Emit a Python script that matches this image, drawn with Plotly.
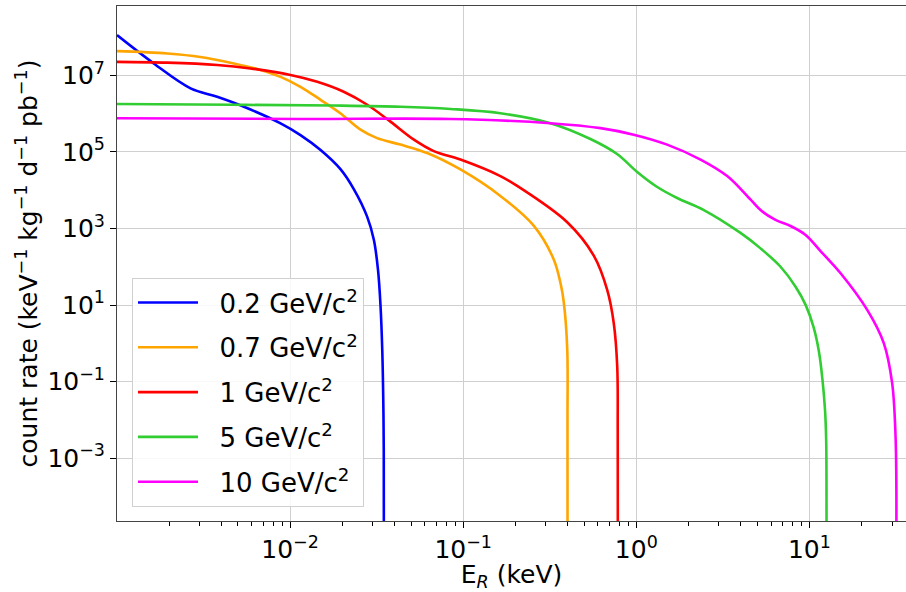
import plotly.graph_objects as go

# Values (E_R in keV, rate in keV^-1 kg^-1 d^-1 pb^-1)
labels = ["0.2 GeV/c<sup>2</sup>", "0.7 GeV/c<sup>2</sup>", "1 GeV/c<sup>2</sup>",
          "5 GeV/c<sup>2</sup>", "10 GeV/c<sup>2</sup>"]
colors = ["#0000ff", "#ffa500", "#ff0000", "#32cd32", "#ff00ff"]

e_02 = [1.0e-3, 1.63e-3, 2.66e-3, 3.79e-3, 5.41e-3, 8.81e-3, 1.148e-2, 1.50e-2,
        1.954e-2, 2.333e-2, 2.786e-2, 3.048e-2, 3.22e-2, 3.327e-2, 3.407e-2,
        3.453e-2, 3.476e-2, 3.48e-2]
r_02 = [1.12e8, 2.04e7, 4.57e6, 2.75e6, 1.51e6, 5.58e5, 2.75e5, 1.12e5,
        3.55e4, 1.07e4, 2.04e3, 501, 82.4, 10.1, 0.673,
        0.0333, 1.65e-3, 1e-5]

e_07 = [1.0e-3, 1.95e-3, 3.03e-3, 4.73e-3, 6.75e-3, 8.81e-3, 1.148e-2, 1.50e-2,
        1.95e-2, 2.55e-2, 3.18e-2, 4.34e-2, 6.19e-2, 9.64e-2, 0.164, 0.256,
        0.333, 0.365, 0.381, 0.399, 0.4004, 0.4006]
r_07 = [4.27e7, 3.72e7, 3.02e7, 2.04e7, 1.38e7, 9.12e6, 5.01e6, 2.29e6,
        1.02e6, 3.80e5, 2.29e5, 1.55e5, 9.33e4, 3.47e4, 7.08e3, 1.17e3,
        158, 37.0, 12.0, 0.724, 0.01, 1e-5]

e_1 = [1.0e-3, 1.95e-3, 3.79e-3, 5.90e-3, 1.005e-2, 1.435e-2, 2.04e-2, 2.79e-2,
       3.80e-2, 5.19e-2, 6.76e-2, 9.64e-2, 0.164, 0.205, 0.399, 0.568, 0.679,
       0.741, 0.776, 0.781, 0.782]
r_1 = [2.24e7, 2.14e7, 1.86e7, 1.51e7, 1.02e7, 6.76e6, 3.72e6, 1.70e6,
       6.17e5, 2.09e5, 1.05e5, 6.31e4, 2.34e4, 1.29e4, 1.45e3, 195, 24.8,
       3.35, 0.245, 5.5e-3, 1e-5]

e_5 = [1.0e-3, 4.73e-3, 1.786e-2, 4.345e-2, 8.45e-2, 0.164, 0.319, 0.543,
       0.774, 1.012, 1.321, 1.722, 2.455, 4.0, 5.22, 6.81, 8.32, 9.51,
       10.56, 11.36, 11.90, 12.31, 12.50, 12.55, 12.56]
r_5 = [1.78e6, 1.70e6, 1.62e6, 1.51e6, 1.32e6, 1.02e6, 5.62e5, 2.17e5,
       8.81e4, 2.99e4, 1.21e4, 6.25e3, 3.03e3, 764, 302, 100, 30.2,
       10.1, 2.68, 0.596, 0.111, 0.0182, 3.0e-3, 2.7e-4, 1e-5]

e_10 = [1.0e-3, 1.148e-2, 8.45e-2, 0.319, 0.621, 0.966, 1.507, 2.35, 3.35,
        4.56, 5.30, 6.37, 7.78, 9.51, 11.59, 15.14, 21.58, 26.92, 30.06,
        31.41, 31.77, 31.8]
r_10 = [7.59e5, 7.24e5, 7.24e5, 5.62e5, 4.17e5, 2.82e5, 1.55e5, 6.31e4,
        2.34e4, 5.75e3, 2.85e3, 1.67e3, 1.16e3, 676, 257, 67.6, 7.45, 1.0,
        0.091, 4.5e-3, 2.7e-4, 1e-5]

series_e = [e_02, e_07, e_1, e_5, e_10]
series_r = [r_02, r_07, r_1, r_5, r_10]

x_tickvals = [1e-2, 1e-1, 1e0, 1e1]
x_ticktext = ["10<sup>−2</sup>", "10<sup>−1</sup>", "10<sup>0</sup>", "10<sup>1</sup>"]
y_tickvals = [1e-3, 1e-1, 1e1, 1e3, 1e5, 1e7]
y_ticktext = ["10<sup>−3</sup>", "10<sup>−1</sup>", "10<sup>1</sup>",
              "10<sup>3</sup>", "10<sup>5</sup>", "10<sup>7</sup>"]
x_minor = [m * 10.0 ** d for d in (-3, -2, -1, 0, 1) for m in range(2, 10)]

font = "DejaVu Sans"
fs = 25
fig = go.Figure()
for lab, col, e, r in zip(labels, colors, series_e, series_r):
    fig.add_trace(go.Scatter(
        x=e, y=r, mode="lines", name="\u00a0\u00a0" + lab, legendgroup=lab,
        line=dict(color=col, width=2.6, shape="spline", smoothing=1.0),
    ))

fig.update_layout(
    width=906, height=592,
    margin=dict(l=117, r=0, t=6, b=71),
    plot_bgcolor="white", paper_bgcolor="white",
    font=dict(family=font, size=fs, color="black"),
    showlegend=True,
    legend=dict(
        x=0.019, y=0.027, xanchor="left", yanchor="bottom",
        bgcolor="rgba(255,255,255,0.85)", bordercolor="#d0d0d0", borderwidth=1,
        font=dict(family=font, size=26, color="black"),
        tracegroupgap=8, itemwidth=60,
    ),
)
fig.update_xaxes(
    type="log", range=[-3.0, 1.558],
    tickvals=x_tickvals, ticktext=x_ticktext,
    ticks="outside", ticklen=6, tickwidth=1, tickcolor="black",
    minor=dict(tickvals=x_minor, ticks="outside", ticklen=3.5, tickcolor="black", showgrid=False),
    showgrid=True, gridcolor="#cfcfcf", gridwidth=1,
    showline=True, linecolor="#444", linewidth=1, mirror=True,
    title=dict(text="E<sub><i>R</i></sub> (keV)", font=dict(family=font, size=fs), standoff=0),
    tickfont=dict(family=font, size=fs), zeroline=False,
)
fig.update_yaxes(
    type="log", range=[-4.64, 8.81],
    tickvals=y_tickvals, ticktext=y_ticktext,
    ticks="outside", ticklen=6, tickwidth=1, tickcolor="black",
    showgrid=True, gridcolor="#cfcfcf", gridwidth=1,
    showline=True, linecolor="#444", linewidth=1, mirror=False,
    title=dict(text="count rate (keV<sup>−1</sup> kg<sup>−1</sup> d<sup>−1</sup> pb<sup>−1</sup>)",
               font=dict(family=font, size=fs), standoff=2),
    tickfont=dict(family=font, size=fs), zeroline=False,
)

fig.write_html("out.html")
